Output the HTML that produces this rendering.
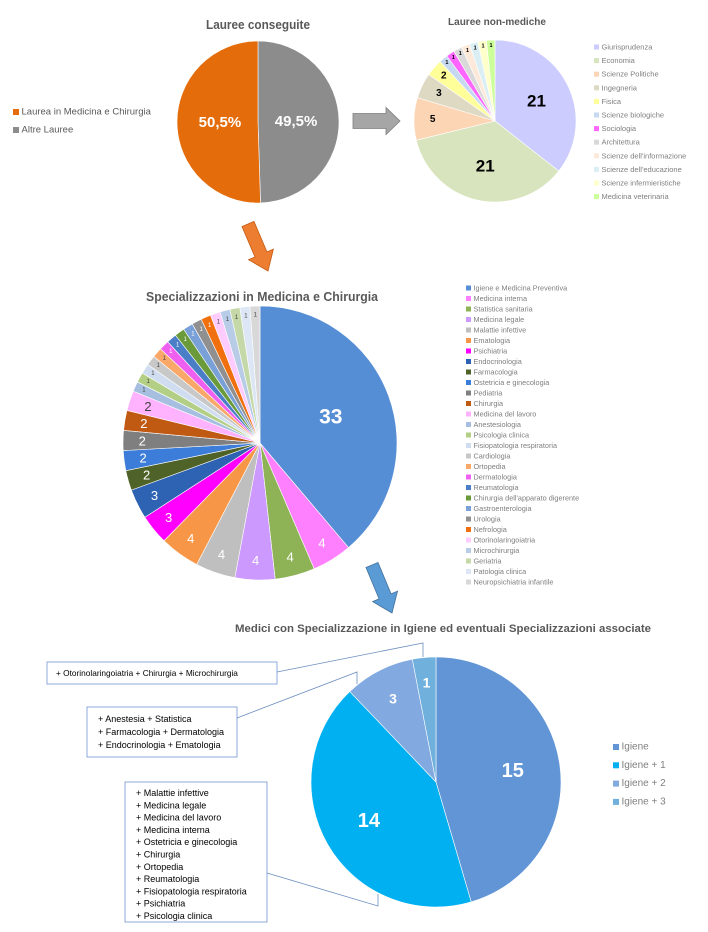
<!DOCTYPE html>
<html><head><meta charset="utf-8">
<style>
html,body{margin:0;padding:0;background:#fff;}
svg{display:block;font-family:"Liberation Sans",sans-serif;}
</style></head>
<body>
<svg id="root" width="708" height="932" viewBox="0 0 708 932" xmlns="http://www.w3.org/2000/svg">
<g id="g1"></g>
<g id="g2"></g>
<g id="g3"></g>
<g id="g4"></g>
<g id="arrows"></g>
</svg>
<script>
// ---- Chart 1 data ----
const c1Categories = ["Laurea in Medicina e Chirurgia","Altre Lauree"];
const c1Values = [50.5, 49.5];
const c1Labels = ["50,5%","49,5%"];
const c1Colors = ["#e46c0a","#8c8c8c"];
// ---- Chart 2 data ----
const c2Categories = ["Giurisprudenza","Economia","Scienze Politiche","Ingegneria","Fisica","Scienze biologiche","Sociologia","Architettura","Scienze dell'informazione","Scienze dell'educazione","Scienze infermieristiche","Medicina veterinaria"];
const c2Values = [21,21,5,3,2,1,1,1,1,1,1,1];
const c2Colors = ["#ccccff","#d7e4bd","#fcd5b5","#ddd9c3","#ffff99","#c6d9f1","#ff66ff","#d9d9d9","#fde9d9","#dbeef4","#ffffcc","#ccff99"];
// ---- Chart 3 data ----
const c3Categories = ["Igiene e Medicina Preventiva","Medicina interna","Statistica sanitaria","Medicina legale","Malattie infettive","Ematologia","Psichiatria","Endocrinologia","Farmacologia","Ostetricia e ginecologia","Pediatria","Chirurgia","Medicina del lavoro","Anestesiologia","Psicologia clinica","Fisiopatologia respiratoria","Cardiologia","Ortopedia","Dermatologia","Reumatologia","Chirurgia dell'apparato digerente","Gastroenterologia","Urologia","Nefrologia","Otorinolaringoiatria","Microchirurgia","Geriatria","Patologia clinica","Neuropsichiatria infantile"];
const c3Values = [33,4,4,4,4,4,3,3,2,2,2,2,2,1,1,1,1,1,1,1,1,1,1,1,1,1,1,1,1];
const c3Colors = ["#558ed5","#ff80ff","#8eb356","#cc99ff","#bfbfbf","#f79646","#ff00ff","#2e62b3","#4f6228","#3c7dd9","#7f7f7f","#c05912","#ffb3ff","#a6bfe0","#b3cf85","#d0dcef","#c8c8c8","#f9a86a","#f060f0","#4a7fc8","#6a9a3a","#7aa0d8","#909090","#f07010","#ffccff","#b8cce8","#c4d8a8","#dce6f4","#d8d8d8"];
const c3Dark = [12,13,14,15,16,17,24,25,26,27,28];
// ---- Chart 4 data ----
const c4Categories = ["Igiene","Igiene + 1","Igiene + 2","Igiene + 3"];
const c4Values = [15,14,3,1];
const c4Colors = ["#6195d6","#00b0f0","#82a9e0","#6fb0dc"];

const NS="http://www.w3.org/2000/svg";
function mk(parent,tag,attrs,text){const e=document.createElementNS(NS,tag);for(const k in attrs)e.setAttribute(k,attrs[k]);if(text!==undefined)e.textContent=text;parent.appendChild(e);return e;}
function pt(cx,cy,r,a){return [cx+r*Math.sin(a),cy-r*Math.cos(a)];}
function pie(g,vals,colors,cx,cy,r,names,labelFn){
  const tot=vals.reduce((a,b)=>a+b,0);let a0=0;
  vals.forEach((v,i)=>{
    const a1=a0+v/tot*2*Math.PI;
    const p0=pt(cx,cy,r,a0),p1=pt(cx,cy,r,a1);
    const large=(a1-a0)>Math.PI?1:0;
    const s=mk(g,"path",{d:`M${cx},${cy}L${p0[0]},${p0[1]}A${r},${r} 0 ${large} 1 ${p1[0]},${p1[1]}Z`,fill:colors[i],stroke:"#fff","stroke-width":"0.6"});
    
    
    if(labelFn){const L=labelFn(v,i,tot);const m=(a0+a1)/2;const p=pt(cx,cy,r*L.rf,m);
      const t=mk(g,"text",{x:p[0],y:p[1],"text-anchor":"middle","dominant-baseline":"central","font-size":L.fs,"font-weight":L.fw||"normal",fill:L.fill},L.text);
      
      }
    a0=a1;});
}
function legend(g,names,colors,x,y,step,fs,sq,fill){
  names.forEach((n,i)=>{
    const r=mk(g,"rect",{x:x,y:y+i*step-sq/2,width:sq,height:sq,fill:colors[i]});
    
    
    const t=mk(g,"text",{x:x+sq+2.5,y:y+i*step,"dominant-baseline":"central","font-size":fs,fill:fill},n);
    
    
  });
}
function title(g,x,y,txt,fs,len){const t=mk(g,"text",{x:x,y:y,"text-anchor":"middle","font-size":fs,"font-weight":"bold",fill:"#595959",textLength:len,lengthAdjust:"spacingAndGlyphs"},txt);
  
  }

// Chart 1
const g1=document.getElementById('g1');
title(g1,258,29,"Lauree conseguite",13,104);
(function(){const v=[c1Values[1],c1Values[0]];const col=[c1Colors[1],c1Colors[0]];const nm=[c1Categories[1],c1Categories[0]];const lb=[c1Labels[1],c1Labels[0]];
 pie(g1,v,col,258,122,81,nm,(val,i)=>({rf:0.47,fs:15,fw:"bold",fill:"#fff",text:lb[i]}));})();
legend(g1,c1Categories,c1Colors,13,112,18,9.5,6,"#595959");

// Chart 2
const g2=document.getElementById('g2');
title(g2,497,25,"Lauree non-mediche",10,98);
pie(g2,c2Values,c2Colors,495,121,81,c2Categories,(v)=>({rf:v>=21?0.57:v>=3?0.77:v==2?0.84:0.93,fs:v>=21?17:v>=2?10:5.5,fw:"bold",fill:"#000",text:String(v)}));
legend(g2,c2Categories,c2Colors,594,47,13.6,7.5,5,"#7f7f7f");

// Chart 3
const g3=document.getElementById('g3');
title(g3,262,301,"Specializzazioni in Medicina e Chirurgia",13,232);
pie(g3,c3Values,c3Colors,260,443,137,c3Categories,(v,i)=>({rf:v>=30?0.55:v>=2?0.86:0.93,fs:v>=30?21:v>=2?13:6,fw:v>=30?"bold":"normal",fill:c3Dark.includes(i)?"#404040":"#fff",text:String(v)}));
legend(g3,c3Categories,c3Colors,466,288,10.5,7.3,5,"#7f7f7f");

// Chart 4
const g4=document.getElementById('g4');
title(g4,443,632,"Medici con Specializzazione in Igiene ed eventuali Specializzazioni associate",11,416);
pie(g4,c4Values,c4Colors,436,782,125,c4Categories,(v)=>({rf:v>=10?0.62:v==3?0.75:0.8,fs:v>=10?20:14,fw:"bold",fill:"#fff",text:String(v)}));
legend(g4,c4Categories,c4Colors,613,747,18.3,10,6,"#7f7f7f");
const boxes=[
 {x:47,y:662,w:230,h:22,lines:["+ Otorinolaringoiatria + Chirurgia + Microchirurgia"],ty:673,line:"M277,672 L423,643 L423,657"},
 {x:87,y:707,w:150,h:50,lines:["+ Anestesia + Statistica","+ Farmacologia + Dermatologia","+ Endocrinologia + Ematologia"],ty:719,line:"M237,718 L357,672 L357,684"},
 {x:125,y:782,w:142,h:140,lines:["+ Malattie infettive","+ Medicina legale","+ Medicina del lavoro","+ Medicina interna","+ Ostetricia e ginecologia","+ Chirurgia","+ Ortopedia","+ Reumatologia","+ Fisiopatologia respiratoria","+ Psichiatria","+ Psicologia clinica"],ty:793,line:"M267,873 L378,906 L378,894"}
];
boxes.forEach((b,bi)=>{
 const r=mk(g4,"rect",{x:b.x,y:b.y,width:b.w,height:b.h,fill:"#fff",stroke:"#8ea9db","stroke-width":"1"});
 
 
 const p=mk(g4,"path",{d:b.line,fill:"none",stroke:"#6c8ebf","stroke-width":"0.8"});
 
 
 b.lines.forEach((l,i)=>{const t=mk(g4,"text",{x:b.x+(bi==0?9:11),y:b.ty+i*(bi==2?12.3:13),"dominant-baseline":"central","font-size":bi==0?8.3:9,fill:"#000"},l);
  
  });
});

// Arrows
const ga=document.getElementById('arrows');
function arrow(x0,y0,x1,y1,sw,hw,hl,fill,stroke,name){
 const L=Math.hypot(x1-x0,y1-y0),ang=Math.atan2(y1-y0,x1-x0)*180/Math.PI;
 const d=`M0,${-sw/2}L${L-hl},${-sw/2}L${L-hl},${-hw/2}L${L},0L${L-hl},${hw/2}L${L-hl},${sw/2}L0,${sw/2}Z`;
 const p=mk(ga,"path",{d:d,fill:fill,stroke:stroke,"stroke-width":"0.8",transform:`translate(${x0},${y0}) rotate(${ang})`});
 
 
}
arrow(353,121,400,121,15,27,14,"#a6a6a6","#7f7f7f","grey-arrow");
arrow(248,224,268,271,13,27,18,"#ed7d31","#c55a11","orange-arrow");
arrow(372,565,392,613,13,27,18,"#5b9bd5","#41719c","blue-arrow");
</script>
</body></html>
